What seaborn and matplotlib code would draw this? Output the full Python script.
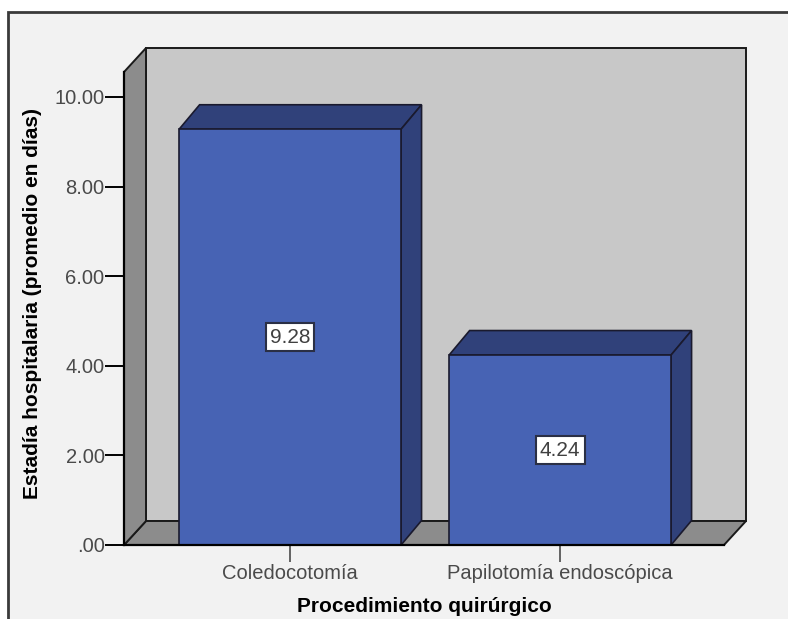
import matplotlib
matplotlib.use("Agg")
import matplotlib.pyplot as plt
import seaborn as sns
from matplotlib.patches import Polygon, Rectangle

# Mean hospital stay by surgical procedure
categories = ["Coledocotomía", "Papilotomía endoscópica"]
mean_days = [9.28, 4.24]
y_ticks = [0, 2, 4, 6, 8, 10]
y_tick_labels = [".00", "2.00", "4.00", "6.00", "8.00", "10.00"]

FRONT = "#4763b4"
SHADE = "#30417a"
BACK_WALL = "#c8c8c8"
SIDE_WALL = "#8c8c8c"
PANEL = "#f2f2f2"

sns.set_theme(style="white")
plt.rcParams["font.family"] = ["Liberation Sans", "DejaVu Sans"]

W, H = 788, 619
fig = plt.figure(figsize=(W / 100, H / 100), dpi=100, facecolor="white")

# outer panel frame
fig.patches.append(Rectangle((8 / W, -0.02), 1.05, 1 - 12 / H + 0.02,
                             transform=fig.transFigure, facecolor=PANEL,
                             edgecolor="#3a3a3a", linewidth=2, zorder=-10))

ax = fig.add_axes([124 / W, 1 - 545 / H, 600 / W, 473 / H])
ax.set_facecolor("none")

sns.barplot(x=categories, y=mean_days, ax=ax, color=FRONT, width=0.822,
            saturation=1, edgecolor="#1a1a2e", linewidth=1.2, zorder=4)

xmin, xmax = -0.615, 1.607
ymax = 473 / 44.8
ax.set_xlim(xmin, xmax)
ax.set_ylim(0, ymax)

# depth offset converted from pixels to data units
px_x = (xmax - xmin) / 600
px_y = ymax / 473
dx, dy = 22 * px_x, 24 * px_y
bdx, bdy = 20.5 * px_x, 24.5 * px_y

kw = dict(closed=True, edgecolor="#1a1a1a", linewidth=1.4, clip_on=False)
ax.add_patch(Polygon([(xmin + dx, dy), (xmax + dx, dy), (xmax + dx, ymax + dy),
                      (xmin + dx, ymax + dy)], facecolor=BACK_WALL, zorder=0, **kw))
ax.add_patch(Polygon([(xmin, 0), (xmax, 0), (xmax + dx, dy), (xmin + dx, dy)],
                     facecolor=SIDE_WALL, zorder=1, **kw))
ax.add_patch(Polygon([(xmin, 0), (xmin, ymax), (xmin + dx, ymax + dy), (xmin + dx, dy)],
                     facecolor=SIDE_WALL, zorder=1, **kw))

for bar in ax.patches[:len(categories)]:
    x0 = bar.get_x()
    x1 = x0 + bar.get_width()
    h = bar.get_height()
    ax.add_patch(Polygon([(x0, h), (x1, h), (x1 + bdx, h + bdy), (x0 + bdx, h + bdy)],
                         facecolor=SHADE, edgecolor="#1a1a2e", linewidth=1.2,
                         zorder=3, clip_on=False))
    ax.add_patch(Polygon([(x1, 0), (x1, h), (x1 + bdx, h + bdy), (x1 + bdx, bdy)],
                         facecolor=SHADE, edgecolor="#1a1a2e", linewidth=1.2,
                         zorder=3, clip_on=False))
    ax.text(x0 + bar.get_width() / 2, h / 2, f"{h:.2f}", ha="center", va="center",
            fontsize=15, color="#404040", zorder=6,
            bbox=dict(boxstyle="square,pad=0.2", facecolor="white",
                      edgecolor="#2a2f45", linewidth=1.5))

for s in ["top", "right"]:
    ax.spines[s].set_visible(False)
ax.spines["left"].set_color("black")
ax.spines["left"].set_linewidth(1.6)
ax.spines["bottom"].set_color("black")
ax.spines["bottom"].set_linewidth(1.6)
ax.spines["left"].set_zorder(5)
ax.spines["bottom"].set_zorder(5)

ax.set_yticks(y_ticks)
ax.set_yticklabels(y_tick_labels)
ax.tick_params(axis="y", length=14, width=1.4, color="black", labelsize=14.5,
               labelcolor="#4a4a4a", pad=0, left=True)
ax.tick_params(axis="x", length=12, width=1.2, color="#4a4a4a", labelsize=14.5,
               labelcolor="#4a4a4a", pad=2, bottom=True)

ax.set_ylabel("Estadía hospitalaria (promedio en días)", fontsize=15,
              fontweight="bold", color="black")
ax.set_xlabel("Procedimiento quirúrgico", fontsize=15, fontweight="bold",
              color="black")
ax.yaxis.set_label_coords(-(124 - 33) / 600, 0.51)
ax.xaxis.set_label_coords(0.5, -(606 - 545) / 473)
ax.xaxis.label.set_va("center")
ax.yaxis.label.set_va("center")

fig.savefig("out.png", dpi=100, facecolor="white")
